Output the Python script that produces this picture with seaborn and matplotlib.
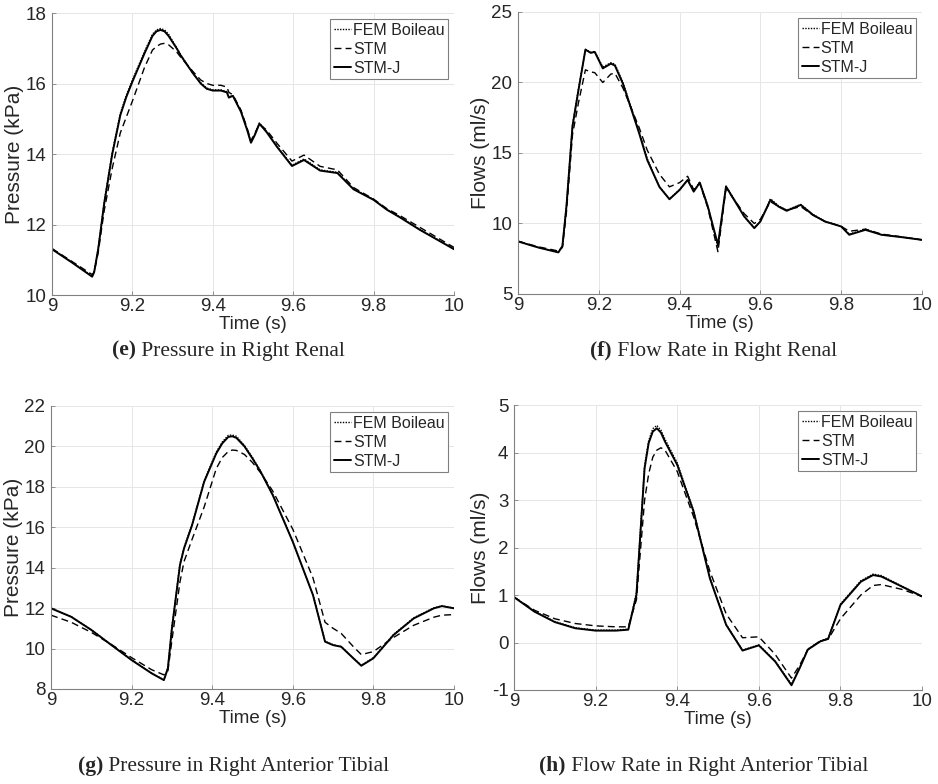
import matplotlib
matplotlib.use("Agg")
import matplotlib.pyplot as plt
import seaborn as sns

# time grids and values
t_e = [9.0, 9.05, 9.1, 9.105, 9.115, 9.13, 9.15, 9.17, 9.185, 9.2, 9.23, 9.25, 9.26,
       9.27, 9.28, 9.29, 9.31, 9.32, 9.35, 9.37, 9.385, 9.4, 9.42, 9.435, 9.44, 9.45,
       9.47, 9.485, 9.495, 9.505, 9.516, 9.534, 9.56, 9.597, 9.627, 9.667, 9.71,
       9.75, 9.8, 9.833, 9.866, 9.915, 10.0]
stmj_e = [11.30, 10.92, 10.52, 10.65, 11.3, 12.6, 14.0, 15.1, 15.62, 16.05, 16.85,
          17.35, 17.48, 17.52, 17.48, 17.35, 17.0, 16.8, 16.3, 16.0, 15.85, 15.8,
          15.8, 15.75, 15.6, 15.65, 15.2, 14.7, 14.32, 14.55, 14.86, 14.62, 14.2,
          13.66, 13.83, 13.53, 13.46, 13.0, 12.7, 12.42, 12.2, 11.85, 11.30]
stm_e = [11.32, 10.95, 10.58, 10.65, 11.2, 12.4, 13.6, 14.6, 15.05, 15.5, 16.45,
         16.95, 17.05, 17.12, 17.14, 17.1, 16.9, 16.75, 16.35, 16.1, 16.0, 15.95,
         15.95, 15.9, 15.75, 15.68, 15.25, 14.75, 14.38, 14.6, 14.85, 14.68, 14.3,
         13.8, 13.97, 13.65, 13.55, 13.05, 12.72, 12.45, 12.25, 11.92, 11.35]
fem_e = [11.31, 10.93, 10.54, 10.66, 11.32, 12.65, 14.05, 15.15, 15.67, 16.1, 16.9,
         17.4, 17.52, 17.56, 17.52, 17.4, 17.02, 16.82, 16.3, 16.02, 15.87, 15.82,
         15.82, 15.77, 15.62, 15.66, 15.22, 14.72, 14.34, 14.56, 14.88, 14.64, 14.22,
         13.68, 13.86, 13.55, 13.48, 13.01, 12.71, 12.43, 12.21, 11.86, 11.31]

t_f = [9.0, 9.05, 9.1, 9.11, 9.12, 9.135, 9.15, 9.167, 9.18, 9.19, 9.21, 9.23, 9.24,
       9.26, 9.3, 9.32, 9.35, 9.375, 9.4, 9.42, 9.435, 9.45, 9.47, 9.495, 9.515,
       9.54, 9.56, 9.585, 9.6, 9.625, 9.645, 9.665, 9.7, 9.73, 9.76, 9.8, 9.82,
       9.86, 9.9, 9.95, 10.0]
stmj_f = [8.73, 8.3, 7.95, 8.4, 11.2, 16.9, 19.5, 22.33, 22.1, 22.17, 21.0, 21.34,
          21.2, 19.9, 16.4, 14.5, 12.6, 11.72, 12.38, 13.09, 12.26, 12.9, 11.2, 8.49,
          12.62, 11.44, 10.5, 9.67, 10.14, 11.67, 11.2, 10.9, 11.32, 10.61, 10.14,
          9.79, 9.2, 9.55, 9.2, 9.03, 8.84]
stm_f = [8.75, 8.35, 8.05, 8.3, 10.8, 16.3, 18.6, 20.9, 20.75, 20.7, 20.0, 20.6,
         20.65, 19.6, 16.8, 15.2, 13.5, 12.6, 12.9, 13.35, 12.4, 12.85, 11.1, 8.0,
         12.5, 11.5, 10.7, 10.0, 10.3, 11.55, 11.2, 10.95, 11.2, 10.6, 10.15, 9.8,
         9.45, 9.6, 9.25, 9.05, 8.84]
fem_f = [8.74, 8.3, 7.97, 8.4, 11.3, 17.0, 19.6, 22.35, 22.15, 22.2, 21.1, 21.4,
         21.3, 20.0, 16.5, 14.6, 12.6, 11.75, 12.4, 13.1, 12.3, 12.95, 11.25, 8.3,
         12.65, 11.5, 10.5, 9.7, 10.15, 11.75, 11.25, 10.95, 11.35, 10.65, 10.15,
         9.8, 9.25, 9.6, 9.2, 9.05, 8.84]

t_g = [9.0, 9.05, 9.1, 9.15, 9.2, 9.25, 9.28, 9.29, 9.3, 9.32, 9.33, 9.35, 9.38,
       9.41, 9.425, 9.44, 9.45, 9.46, 9.48, 9.5, 9.52, 9.55, 9.6, 9.65, 9.68, 9.7,
       9.72, 9.75, 9.77, 9.8, 9.85, 9.9, 9.95, 9.97, 10.0]
stmj_g = [11.99, 11.57, 10.92, 10.17, 9.43, 8.77, 8.44, 9.02, 11.0, 14.13, 14.95,
          16.1, 18.25, 19.65, 20.15, 20.47, 20.5, 20.42, 20.0, 19.4, 18.75, 17.6,
          15.28, 12.65, 10.34, 10.17, 10.09, 9.52, 9.15, 9.52, 10.67, 11.49, 11.99,
          12.1, 11.99]
stm_g = [11.65, 11.3, 10.8, 10.2, 9.55, 8.95, 8.7, 8.9, 10.4, 13.3, 14.3, 15.4,
         17.0, 18.9, 19.45, 19.75, 19.82, 19.8, 19.6, 19.2, 18.7, 17.8, 15.9, 13.5,
         11.3, 11.0, 10.75, 10.1, 9.7, 9.85, 10.55, 11.15, 11.55, 11.65, 11.68]
fem_g = [12.0, 11.58, 10.93, 10.18, 9.44, 8.78, 8.45, 9.05, 11.05, 14.2, 15.0,
         16.15, 18.3, 19.72, 20.22, 20.55, 20.56, 20.5, 20.05, 19.45, 18.78, 17.62,
         15.3, 12.67, 10.36, 10.19, 10.1, 9.54, 9.17, 9.55, 10.7, 11.52, 12.01,
         12.11, 12.0]

t_h = [9.0, 9.05, 9.1, 9.15, 9.2, 9.25, 9.28, 9.3, 9.32, 9.33, 9.34, 9.35, 9.36,
       9.37, 9.4, 9.44, 9.48, 9.52, 9.56, 9.6, 9.64, 9.68, 9.7, 9.72, 9.75, 9.77,
       9.8, 9.85, 9.88, 9.9, 9.95, 10.0]
stmj_h = [0.955, 0.65, 0.43, 0.30, 0.25, 0.25, 0.27, 1.0, 3.67, 4.2, 4.44, 4.51,
          4.42, 4.23, 3.74, 2.76, 1.35, 0.37, -0.17, -0.06, -0.40, -0.90, -0.54,
          -0.15, 0.02, 0.08, 0.79, 1.28, 1.42, 1.39, 1.18, 0.97]
stm_h = [0.955, 0.68, 0.5, 0.4, 0.35, 0.33, 0.33, 0.9, 3.0, 3.55, 3.9, 4.05, 4.1,
         4.05, 3.6, 2.65, 1.5, 0.6, 0.1, 0.12, -0.25, -0.75, -0.48, -0.15, 0.03,
         0.07, 0.5, 1.0, 1.2, 1.22, 1.12, 0.97]
fem_h = [0.96, 0.66, 0.44, 0.31, 0.26, 0.26, 0.28, 1.05, 3.72, 4.25, 4.5, 4.57,
         4.47, 4.28, 3.78, 2.78, 1.37, 0.38, -0.16, -0.05, -0.39, -0.88, -0.53,
         -0.14, 0.03, 0.09, 0.81, 1.3, 1.44, 1.41, 1.19, 0.97]

x_ticks = [9.0, 9.2, 9.4, 9.6, 9.8, 10.0]
x_ticklabels = ["9", "9.2", "9.4", "9.6", "9.8", "10"]
series_names = ["FEM Boileau", "STM", "STM-J"]

yticks_e = [10, 12, 14, 16, 18]
yticks_f = [5, 10, 15, 20, 25]
yticks_g = [8, 10, 12, 14, 16, 18, 20, 22]
yticks_h = [-1, 0, 1, 2, 3, 4, 5]

captions = [("(e)", "Pressure in Right Renal"),
            ("(f)", "Flow Rate in Right Renal"),
            ("(g)", "Pressure in Right Anterior Tibial"),
            ("(h)", "Flow Rate in Right Anterior Tibial")]

sns.set_theme(style="whitegrid")
plt.rcParams["font.family"] = ["Liberation Sans", "DejaVu Sans"]
plt.rcParams["axes.unicode_minus"] = False

fig = plt.figure(figsize=(9.38, 7.84), dpi=100)

# axes boxes in figure fractions
boxes = [[0.0554, 0.6237, 0.4286, 0.3597],
         [0.5522, 0.6250, 0.4307, 0.3597],
         [0.0544, 0.1212, 0.4296, 0.3610],
         [0.5480, 0.1199, 0.4350, 0.3635]]

panels = [
    (t_e, fem_e, stm_e, stmj_e, yticks_e, "Pressure (kPa)"),
    (t_f, fem_f, stm_f, stmj_f, yticks_f, "Flows (ml/s)"),
    (t_g, fem_g, stm_g, stmj_g, yticks_g, "Pressure (kPa)"),
    (t_h, fem_h, stm_h, stmj_h, yticks_h, "Flows (ml/s)"),
]

styles = [((0, (1, 1)), 1.0), ((0, (5, 3)), 1.0), ("-", 1.4)]

for box, (t, fem, stm, stmj, yt, ylab) in zip(boxes, panels):
    ax = fig.add_axes(box)
    for vals, name, (ls, lw) in zip([fem, stm, stmj], series_names, styles):
        sns.lineplot(x=t, y=vals, ax=ax, color="black", linestyle=ls, linewidth=lw,
                     label=name, estimator=None)
    ax.set_xlim(9, 10)
    ax.set_ylim(yt[0], yt[-1])
    ax.set_xticks(x_ticks)
    ax.set_xticklabels(x_ticklabels)
    ax.set_yticks(yt)
    ax.set_yticklabels([str(v) for v in yt])
    ax.set_xlabel("Time (s)", fontsize=13.5, color="#262626", labelpad=1)
    ax.set_ylabel(ylab, fontsize=15, color="#262626", labelpad=1)
    ax.tick_params(axis="both", which="both", direction="in", length=3, width=0.6,
                   color="#808080", labelsize=13.5, labelcolor="#262626")
    ax.tick_params(axis="x", pad=2)
    ax.tick_params(axis="y", pad=4)
    ax.tick_params(left=True, bottom=True)
    ax.grid(True, color="#e6e6e6", linewidth=0.7)
    ax.set_facecolor("white")
    for s in ["top", "right"]:
        ax.spines[s].set_visible(False)
    for s in ["left", "bottom"]:
        ax.spines[s].set_color("#808080")
        ax.spines[s].set_linewidth(0.8)
    leg = ax.legend(loc="upper right", fontsize=11.5, frameon=True, fancybox=False,
                    framealpha=1, edgecolor="#808080", borderpad=0.2,
                    labelspacing=0.25, handlelength=1.1, handletextpad=0.1,
                    borderaxespad=0.4)
    leg.get_frame().set_linewidth(0.8)

# captions, bold label followed by regular text, centred as a pair
cap_pos = [(0.244, 0.546), (0.761, 0.546), (0.249, 0.017), (0.750, 0.017)]
fig.canvas.draw()
renderer = fig.canvas.get_renderer()
for (lab, rest), (cx, cy) in zip(captions, cap_pos):
    t1 = fig.text(0, cy, lab, fontsize=15.5, weight="bold", family="Liberation Serif",
                  va="baseline")
    t2 = fig.text(0, cy, " " + rest, fontsize=15.5, family="Liberation Serif",
                  va="baseline")
    w1 = t1.get_window_extent(renderer).width / fig.bbox.width
    w2 = t2.get_window_extent(renderer).width / fig.bbox.width
    x0 = cx - (w1 + w2) / 2
    t1.set_x(x0)
    t2.set_x(x0 + w1)

fig.savefig("out.png", dpi=100)
